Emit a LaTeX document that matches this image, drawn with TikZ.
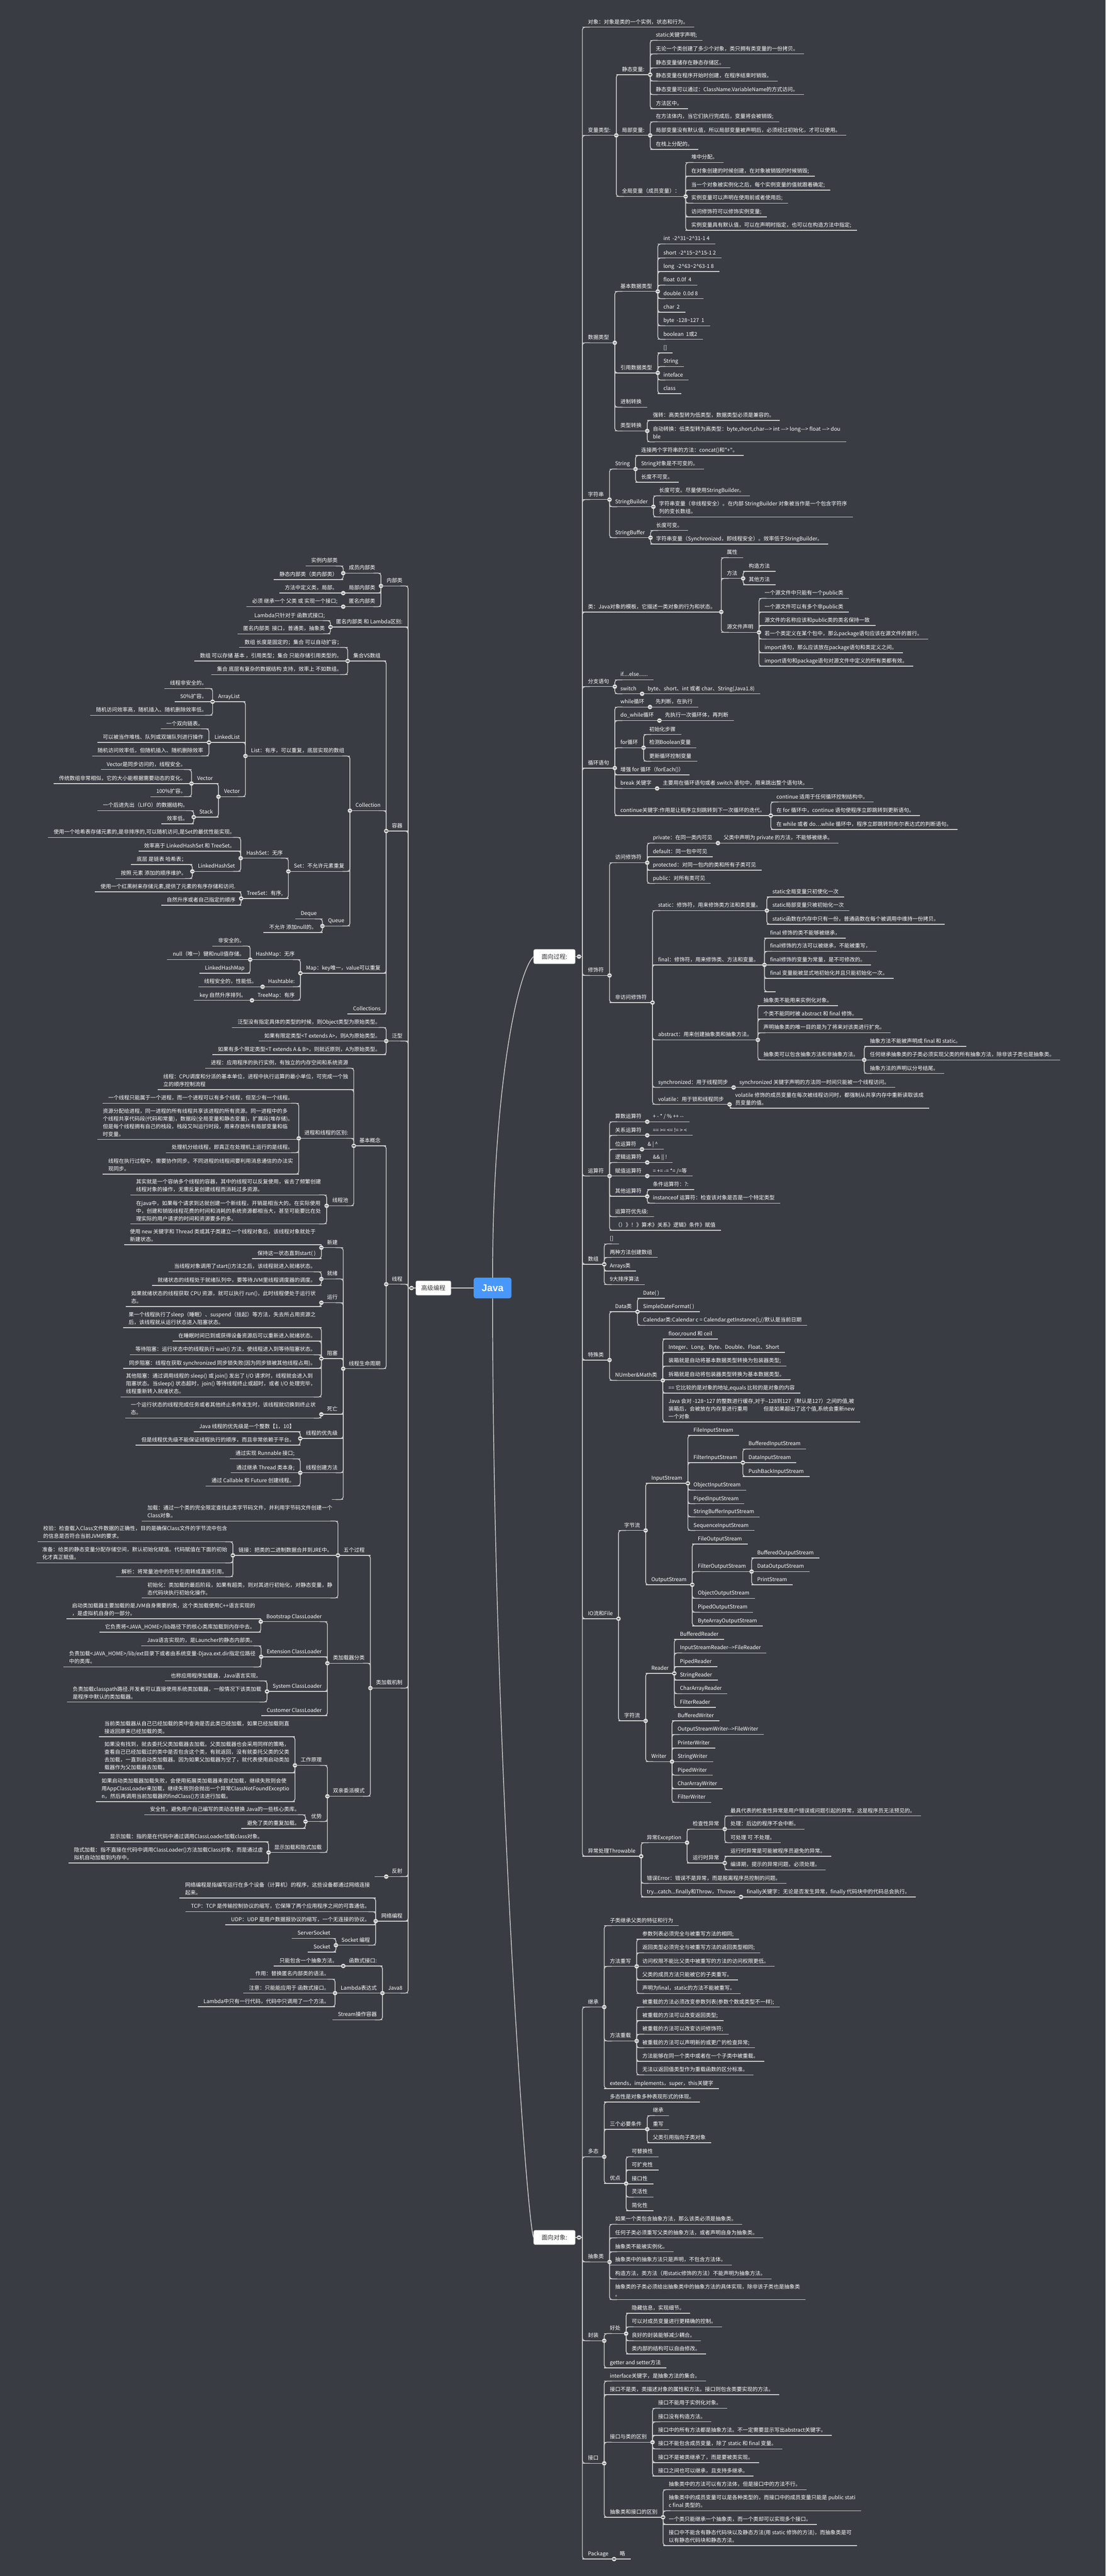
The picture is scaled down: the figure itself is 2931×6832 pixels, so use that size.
\documentclass[tikz,border=0pt]{standalone}
\usepackage{fontspec}
\newfontfamily\cjkf{Noto Sans CJK SC}
\newfontfamily\javaf{Liberation Sans}
\usetikzlibrary{calc}
\definecolor{bgc}{RGB}{57,60,66}
\definecolor{lnc}{RGB}{205,205,205}
\definecolor{jbc}{RGB}{72,151,250}
\definecolor{txc}{RGB}{51,51,51}
\definecolor{cfc}{RGB}{222,222,222}
\definecolor{cmc}{RGB}{70,70,70}
\newcommand\hatc{\textasciicircum}
\newcommand\tildc{\textasciitilde}
\newcommand\mline[1]{\begin{tabular}[b]{@{}l@{}}#1\end{tabular}}
\newcommand\dotc[1]{\fill[cfc] (#1) circle (6pt); \draw[cmc, line width=1.8pt] ($(#1)+(-3.2,0)$) -- ($(#1)+(3.2,0)$);}
\newcommand\setY[2]{\expandafter\xdef\csname Y@#1\endcsname{#2}}
\newcommand\getY[1]{\csname Y@#1\endcsname}
\newcommand\circlist{}
\newcommand\addcirc[1]{\expandafter\gdef\expandafter\circlist\expandafter{\circlist\dotc{#1}}}
\newcommand\markpar[2]{% #1 name, #2 anchor
  \ifcsname C@#1\endcsname\else
    \expandafter\gdef\csname C@#1\endcsname{}%
    \addcirc{#1.#2}%
  \fi}
\newcommand\rnode[4]{%
  \setY{#1}{#3}%
  \path let \p1=(#2.south east) in node[rn] (#1) at (\x1,-#3pt) {#4};
  \draw[lk] (#1.south west) -- (#1.south east);
  \ifnum\numexpr(#3-\getY{#2})*(#3-\getY{#2})\relax<100
    \draw[lk] (#2.south east) -- (#1.south west);
  \else
    \draw[lk, rounded corners=7pt] (#2.south east) |- ($(#1.south west)+(20,0)$);
  \fi
  \markpar{#2}{south east}%
}
\newcommand\rzero[4]{%
  \setY{#1}{#3}%
  \path let \p1=(#2) in node[rn] (#1) at (\x1,-#3pt) {#4};
  \draw[lk] (#1.south west) -- (#1.south east);
  \ifnum\numexpr(#3-\getY{#2})*(#3-\getY{#2})\relax<100
    \draw[lk] (#2) -- (#1.south west);
  \else
    \draw[lk, rounded corners=7pt] (#2) |- ($(#1.south west)+(20,0)$);
  \fi
}
\newcommand\lnode[4]{%
  \setY{#1}{#3}%
  \path let \p1=(#2.south west) in node[lnd] (#1) at (\x1,-#3pt) {#4};
  \draw[lk] (#1.south west) -- (#1.south east);
  \ifnum\numexpr(#3-\getY{#2})*(#3-\getY{#2})\relax<100
    \draw[lk] (#2.south west) -- (#1.south east);
  \else
    \draw[lk, rounded corners=7pt] (#2.south west) |- ($(#1.south east)+(-20,0)$);
  \fi
  \markpar{#2}{south west}%
}
\newcommand\lzero[4]{%
  \setY{#1}{#3}%
  \path let \p1=(#2) in node[lnd] (#1) at (\x1,-#3pt) {#4};
  \draw[lk] (#1.south west) -- (#1.south east);
  \ifnum\numexpr(#3-\getY{#2})*(#3-\getY{#2})\relax<100
    \draw[lk] (#2) -- (#1.south east);
  \else
    \draw[lk, rounded corners=7pt] (#2) |- ($(#1.south east)+(-20,0)$);
  \fi
}
\tikzset{
  lk/.style={draw=lnc, line width=2pt},
  rn/.style={anchor=south west, inner xsep=15pt, inner ysep=0pt, outer sep=0pt, text depth=9pt, text=white, font=\cjkf\fontsize{14}{20.5}\selectfont},
  lnd/.style={rn, anchor=south east},
  rootbox/.style={fill=white, draw=lnc, line width=1pt, rounded corners=4pt, minimum width=110pt, minimum height=38pt, inner sep=0pt, text=txc, font=\cjkf\fontsize{16}{16}\selectfont},
}
\begin{document}
\begin{tikzpicture}[x=1pt,y=-1pt]
\useasboundingbox (0,0) rectangle (2931,6832);
\fill[bgc] (0,0) rectangle (2931,6832);
% ---------- centre ----------
\node[fill=jbc, rounded corners=6pt, minimum width=100pt, minimum height=55pt, inner sep=0pt, text=white, font=\javaf\bfseries\fontsize{26}{26}\selectfont] (java) at (1306,3416) {Java};
\node[rootbox] (mgP) at (1470,2537) {面向过程:};
\node[rootbox] (mgO) at (1470,5934) {面向对象:};
\node[rootbox, minimum width=93pt] (mgL) at (1149,3416) {高级编程};
\coordinate (gP) at (1544,2537); \setY{gP}{2537}
\coordinate (gO) at (1544,5934); \setY{gO}{5934}
\coordinate (gL) at (1082,3416); \setY{gL}{3416}
\draw[lk] (java.north) .. controls (1306,2900) and (1370,2580) .. (mgP.west);
\draw[lk] (java.south) .. controls (1306,4600) and (1395,5885) .. (mgO.west);
\draw[lk] (java.west) -- (mgL.east);
\draw[lk] (mgP.east) -- (gP);
\draw[lk] (mgO.east) -- (gO);
\draw[lk] (mgL.west) -- (gL);
% ---------- 面向过程 ----------
\rzero{o1}{gP}{72}{对象：对象是类的一个实例，状态和行为。}
\rzero{o2}{gP}{359}{变量类型:}
\rnode{a1}{o2}{198}{静态变量:}
\rnode{a11}{a1}{107}{static关键字声明;}
\rnode{a12}{a1}{143}{无论一个类创建了多少个对象，类只拥有类变量的一份拷贝。}
\rnode{a13}{a1}{180}{静态变量储存在静态存储区。}
\rnode{a14}{a1}{215}{静态变量在程序开始时创建，在程序结束时销毁。}
\rnode{a15}{a1}{251}{静态变量可以通过：ClassName.VariableName的方式访问。}
\rnode{a16}{a1}{288}{方法区中。}
\rnode{a2}{o2}{359}{局部变量:}
\rnode{a21}{a2}{323}{在方法体内，当它们执行完成后，变量将会被销毁;}
\rnode{a22}{a2}{359}{局部变量没有默认值，所以局部变量被声明后，必须经过初始化，才可以使用。}
\rnode{a23}{a2}{396}{在栈上分配的。}
\rnode{a3}{o2}{521}{全局变量（成员变量）：}
\rnode{a31}{a3}{431}{堆中分配。}
\rnode{a32}{a3}{467}{在对象创建的时候创建，在对象被销毁的时候销毁;}
\rnode{a33}{a3}{504}{当一个对象被实例化之后，每个实例变量的值就跟着确定;}
\rnode{a34}{a3}{539}{实例变量可以声明在使用前或者使用后;}
\rnode{a35}{a3}{575}{访问修饰符可以修饰实例变量;}
\rnode{a36}{a3}{611}{实例变量具有默认值，可以在声明时指定，也可以在构造方法中指定;}
\rzero{o3}{gP}{909}{数据类型}
\rnode{b1}{o3}{773}{基本数据类型}
\rnode{b11}{b1}{647}{int\ \ -2\hatc31\tildc2\hatc31-1 4}
\rnode{b12}{b1}{684}{short\ \ -2\hatc15\tildc2\hatc15-1 2}
\rnode{b13}{b1}{720}{long\ \ -2\hatc63\tildc2\hatc63-1 8}
\rnode{b14}{b1}{756}{float\ \ 0.0f\ \ 4}
\rnode{b15}{b1}{792}{double\ \ 0.0d 8}
\rnode{b16}{b1}{828}{char\ \ 2}
\rnode{b17}{b1}{864}{byte\ \ -128\tildc127\ \ 1}
\rnode{b18}{b1}{900}{boolean\ \ 1或2}
\rnode{b2}{o3}{989}{引用数据类型}
\rnode{b21}{b2}{936}{[]}
\rnode{b22}{b2}{972}{String}
\rnode{b23}{b2}{1008}{inteface}
\rnode{b24}{b2}{1044}{class}
\rnode{b3}{o3}{1080}{进制转换}
\rnode{b4}{o3}{1143}{类型转换}
\rnode{b41}{b4}{1115}{强转：高类型转为低类型，数据类型必须是兼容的。}
\rnode{b42}{b4}{1172}{\mline{自动转换：低类型转为高类型：byte,short,char—> int —> long—> float —> dou\\ble}}
\rzero{o4}{gP}{1325}{字符串}
\rnode{c1}{o4}{1244}{String}
\rnode{c11}{c1}{1208}{连接两个字符串的方法：concat()和"+"。}
\rnode{c12}{c1}{1244}{String对象是不可变的。}
\rnode{c13}{c1}{1279}{长度不可变。}
\rnode{c2}{o4}{1344}{StringBuilder}
\rnode{c21}{c2}{1315}{长度可变。尽量使用StringBuilder。}
\rnode{c22}{c2}{1371}{\mline{字符串变量（非线程安全）。在内部 StringBuilder 对象被当作是一个包含字符序\\列的变长数组。}}
\rnode{c3}{o4}{1426}{StringBuffer}
\rnode{c31}{c3}{1407}{长度可变。}
\rnode{c32}{c3}{1443}{字符串变量（Synchronized，即线程安全）。效率低于StringBuilder。}
\rzero{o5}{gP}{1623}{类：Java对象的模板，它描述一类对象的行为和状态。}
\rnode{d1}{o5}{1479}{属性}
\rnode{d2}{o5}{1534}{方法}
\rnode{d21}{d2}{1515}{构造方法}
\rnode{d22}{d2}{1551}{其他方法}
\rnode{d3}{o5}{1677}{源文件声明}
\rnode{d31}{d3}{1587}{一个源文件中只能有一个public类}
\rnode{d32}{d3}{1623}{一个源文件可以有多个非public类}
\rnode{d33}{d3}{1659}{源文件的名称应该和public类的类名保持一致}
\rnode{d34}{d3}{1695}{若一个类定义在某个包中，那么package语句应该在源文件的首行。}
\rnode{d35}{d3}{1731}{import语句，那么应该放在package语句和类定义之间。}
\rnode{d36}{d3}{1767}{import语句和package语句对源文件中定义的所有类都有效。}
\rzero{o6}{gP}{1821}{分支语句}
\rnode{e1}{o6}{1803}{if....else......}
\rnode{e2}{o6}{1840}{switch}
\rnode{e21}{e2}{1840}{byte、short、int 或者 char、String(Java1.8)}
\rzero{o7}{gP}{2037}{循环语句}
\rnode{f1}{o7}{1875}{while循环}
\rnode{f11}{f1}{1875}{先判断，在执行}
\rnode{f2}{o7}{1911}{do\_while循环}
\rnode{f21}{f2}{1911}{先执行一次循环体，再判断}
\rnode{f3}{o7}{1983}{for循环}
\rnode{f31}{f3}{1948}{初始化步骤}
\rnode{f32}{f3}{1983}{检测Boolean变量}
\rnode{f33}{f3}{2019}{更新循环控制变量}
\rnode{f4}{o7}{2055}{增强 for 循环（forEach()）}
\rnode{f5}{o7}{2091}{break 关键字}
\rnode{f51}{f5}{2091}{主要用在循环语句或者 switch 语句中，用来跳出整个语句块。}
\rnode{f6}{o7}{2163}{continue关键字:作用是让程序立刻跳转到下一次循环的迭代。}
\rnode{f61}{f6}{2127}{continue 适用于任何循环控制结构中。}
\rnode{f62}{f6}{2163}{在 for 循环中，continue 语句使程序立即跳转到更新语句。}
\rnode{f63}{f6}{2200}{在 while 或者 do…while 循环中，程序立即跳转到布尔表达式的判断语句。}
\rzero{o8}{gP}{2587}{修饰符}
\rnode{g1}{o8}{2288}{访问修饰符}
\rnode{g11}{g1}{2236}{private：在同一类内可见}
\rnode{g111}{g11}{2236}{父类中声明为 private 的方法，不能够被继承。}
\rnode{g12}{g1}{2272}{default：同一包中可见}
\rnode{g13}{g1}{2308}{protected：对同一包内的类和所有子类可见}
\rnode{g14}{g1}{2343}{public：对所有类可见}
\rnode{g2}{o8}{2659}{非访问修饰符}
\rnode{g21}{g2}{2415}{static：修饰符，用来修饰类方法和类变量。}
\rnode{g211}{g21}{2379}{static全局变量只初使化一次}
\rnode{g212}{g21}{2415}{static局部变量只被初始化一次}
\rnode{g213}{g21}{2451}{static函数在内存中只有一份，普通函数在每个被调用中维持一份拷贝。}
\rnode{g22}{g2}{2559}{final：修饰符，用来修饰类、方法和变量。}
\rnode{g221}{g22}{2488}{final 修饰的类不能够被继承，}
\rnode{g222}{g22}{2523}{final修饰的方法可以被继承，不能被重写，}
\rnode{g223}{g22}{2559}{final修饰的变量为常量，是不可修改的。}
\rnode{g224}{g22}{2595}{final 变量能被显式地初始化并且只能初始化一次。}
\rnode{g225}{g22}{2630}{}
\rnode{g23}{g2}{2758}{abstract：用来创建抽象类和抽象方法。}
\rnode{g231}{g23}{2667}{抽象类不能用来实例化对象。}
\rnode{g232}{g23}{2703}{个类不能同时被 abstract 和 final 修饰。}
\rnode{g233}{g23}{2739}{声明抽象类的唯一目的是为了将来对该类进行扩充。}
\rnode{g234}{g23}{2811}{抽象类可以包含抽象方法和非抽象方法。}
\rnode{g2341}{g234}{2775}{抽象方法不能被声明成 final 和 static。}
\rnode{g2342}{g234}{2811}{任何继承抽象类的子类必须实现父类的所有抽象方法，除非该子类也是抽象类。}
\rnode{g2343}{g234}{2847}{抽象方法的声明以分号结尾。}
\rnode{g24}{g2}{2884}{synchronized：用于线程同步}
\rnode{g241}{g24}{2884}{synchronized 关键字声明的方法同一时间只能被一个线程访问。}
\rnode{g25}{g2}{2929}{volatile：用于锁和线程同步}
\rnode{g251}{g25}{2939}{\mline{volatile 修饰的成员变量在每次被线程访问时，都强制从共享内存中重新读取该成\\员变量的值。}}
\rzero{o9}{gP}{3119}{运算符}
\rnode{h1}{o9}{2975}{算数运算符}
\rnode{h11}{h1}{2975}{+ - * / \% ++ -{}-}
\rnode{h2}{o9}{3011}{关系运算符}
\rnode{h21}{h2}{3011}{== >= <= != > <}
\rnode{h3}{o9}{3048}{位运算符}
\rnode{h31}{h3}{3048}{\& | \hatc}
\rnode{h4}{o9}{3083}{逻辑运算符}
\rnode{h41}{h4}{3083}{\&\& || !}
\rnode{h5}{o9}{3119}{赋值运算符}
\rnode{h51}{h5}{3119}{= += -= *= /=等}
\rnode{h6}{o9}{3173}{其他运算符}
\rnode{h61}{h6}{3155}{条件运算符：?:}
\rnode{h62}{h6}{3191}{instanceof 运算符：检查该对象是否是一个特定类型}
\rnode{h7}{o9}{3227}{运算符优先级:}
\rnode{h8}{o9}{3263}{（）》！》算术》关系》逻辑》条件》赋值}
\rzero{o10}{gP}{3353}{数组}
\rnode{i1}{o10}{3299}{[]}
\rnode{i2}{o10}{3335}{两种方法创建数组}
\rnode{i3}{o10}{3371}{Arrays类}
\rnode{i4}{o10}{3407}{9大排序算法}
\rzero{o11}{gP}{3607}{特殊类}
\rnode{j1}{o11}{3479}{Data类}
\rnode{j11}{j1}{3443}{Date( )}
\rnode{j12}{j1}{3479}{SimpleDateFormat( )}
\rnode{j13}{j1}{3515}{Calendar类:Calendar c = Calendar.getInstance();//默认是当前日期}
\rnode{j2}{o11}{3661}{NUmber\&Math类}
\rnode{j21}{j2}{3551}{floor,round 和 ceil}
\rnode{j22}{j2}{3587}{Integer、Long、Byte、Double、Float、Short}
\rnode{j23}{j2}{3623}{装箱就是自动将基本数据类型转换为包装器类型;}
\rnode{j24}{j2}{3659}{拆箱就是自动将包装器类型转换为基本数据类型。}
\rnode{j25}{j2}{3695}{== 它比较的是对象的地址,equals 比较的是对象的内容}
\rnode{j26}{j2}{3771}{\mline{Java 会对 -128\tildc127 的整数进行缓存,对于–128到127（默认是127）之间的值,被\\装箱后，会被放在内存里进行重用\qquad\quad 但是如果超出了这个值,系统会重新new\\一个对象}}
\rzero{o12}{gP}{4293}{IO流和File}
\rnode{k1}{o12}{4059}{字节流}
\rnode{k11}{k1}{3934}{InputStream}
\rnode{k111}{k11}{3807}{FileInputStream}
\rnode{k112}{k11}{3879}{FilterInputStream}
\rnode{k1121}{k112}{3843}{BufferedInputStream}
\rnode{k1122}{k112}{3879}{DataInputStream}
\rnode{k1123}{k112}{3916}{PushBackInputStream}
\rnode{k113}{k11}{3952}{ObjectInputStream}
\rnode{k114}{k11}{3988}{PipedInputStream}
\rnode{k115}{k11}{4023}{StringBufferInputStream}
\rnode{k116}{k11}{4059}{SequenceInputStream}
\rnode{k12}{k1}{4203}{OutputStream}
\rnode{k121}{k12}{4095}{FileOutputStream}
\rnode{k122}{k12}{4168}{FilterOutputStream}
\rnode{k1221}{k122}{4132}{BufferedOutputStream}
\rnode{k1222}{k122}{4168}{DataOutputStream}
\rnode{k1223}{k122}{4203}{PrintStream}
\rnode{k123}{k12}{4239}{ObjectOutputStream}
\rnode{k124}{k12}{4276}{PipedOutputStream}
\rnode{k125}{k12}{4312}{ByteArrayOutputStream}
\rnode{k2}{o12}{4564}{字符流}
\rnode{k21}{k2}{4438}{Reader}
\rnode{k211}{k21}{4348}{BufferedReader}
\rnode{k212}{k21}{4384}{InputStreamReader-->FileReader}
\rnode{k213}{k21}{4420}{PipedReader}
\rnode{k214}{k21}{4456}{StringReader}
\rnode{k215}{k21}{4492}{CharArrayReader}
\rnode{k216}{k21}{4528}{FilterReader}
\rnode{k22}{k2}{4672}{Writer}
\rnode{k221}{k22}{4564}{BufferedWriter}
\rnode{k222}{k22}{4600}{OutputStreamWriter-->FileWriter}
\rnode{k223}{k22}{4636}{PrinterWriter}
\rnode{k224}{k22}{4672}{StringWriter}
\rnode{k225}{k22}{4708}{PipedWriter}
\rnode{k226}{k22}{4744}{CharArrayWriter}
\rnode{k227}{k22}{4780}{FilterWriter}
\rzero{o13}{gP}{4923}{异常处理Throwable}
\rnode{l1}{o13}{4887}{异常Exception}
\rnode{l11}{l1}{4851}{检查性异常}
\rnode{l111}{l11}{4816}{最具代表的检查性异常是用户错误或问题引起的异常，这是程序员无法预见的。}
\rnode{l112}{l11}{4851}{处理：后边的程序不会中断。}
\rnode{l113}{l11}{4887}{可处理 可 不处理。}
\rnode{l12}{l1}{4941}{运行时异常}
\rnode{l121}{l12}{4923}{运行时异常是可能被程序员避免的异常。}
\rnode{l122}{l12}{4959}{编译期，提示的异常问题，必须处理。}
\rnode{l2}{o13}{4995}{错误Error：错误不是异常，而是脱离程序员控制的问题。}
\rnode{l3}{o13}{5031}{try...catch...finally和Throw，Throws}
\rnode{l31}{l3}{5031}{finally关键字：无论是否发生异常，finally 代码块中的代码总会执行。}
% ---------- 面向对象 ----------
\rzero{p1}{gO}{5323}{继承}
\rnode{p11}{p1}{5107}{子类继承父类的特征和行为}
\rnode{p12}{p1}{5215}{方法重写}
\rnode{p121}{p12}{5143}{参数列表必须完全与被重写方法的相同;}
\rnode{p122}{p12}{5179}{返回类型必须完全与被重写方法的返回类型相同;}
\rnode{p123}{p12}{5215}{访问权限不能比父类中被重写的方法的访问权限更低。}
\rnode{p124}{p12}{5251}{父类的成员方法只能被它的子类重写。}
\rnode{p125}{p12}{5287}{声明为final，static的方法不能被重写。}
\rnode{p13}{p1}{5413}{方法重载}
\rnode{p131}{p13}{5323}{被重载的方法必须改变参数列表(参数个数或类型不一样);}
\rnode{p132}{p13}{5359}{被重载的方法可以改变返回类型;}
\rnode{p133}{p13}{5395}{被重载的方法可以改变访问修饰符;}
\rnode{p134}{p13}{5431}{被重载的方法可以声明新的或更广的检查异常;}
\rnode{p135}{p13}{5467}{方法能够在同一个类中或者在一个子类中被重载。}
\rnode{p136}{p13}{5503}{无法以返回值类型作为重载函数的区分标准。}
\rnode{p14}{p1}{5539}{extends，implements，super，this关键字}
\rzero{p2}{gO}{5720}{多态}
\rnode{p21}{p2}{5575}{多态性是对象多种表现形式的体现。}
\rnode{p22}{p2}{5647}{三个必要条件}
\rnode{p221}{p22}{5611}{继承}
\rnode{p222}{p22}{5648}{重写}
\rnode{p223}{p22}{5683}{父类引用指向子类对象}
\rnode{p23}{p2}{5791}{优点}
\rnode{p231}{p23}{5720}{可替换性}
\rnode{p232}{p23}{5755}{可扩充性}
\rnode{p233}{p23}{5792}{接口性}
\rnode{p234}{p23}{5827}{灵活性}
\rnode{p235}{p23}{5863}{简化性}
\rzero{p3}{gO}{5999}{抽象类}
\rnode{p31}{p3}{5899}{如果一个类包含抽象方法，那么该类必须是抽象类。}
\rnode{p32}{p3}{5935}{任何子类必须重写父类的抽象方法，或者声明自身为抽象类。}
\rnode{p33}{p3}{5972}{抽象类不能被实例化。}
\rnode{p34}{p3}{6007}{抽象类中的抽象方法只是声明，不包含方法体。}
\rnode{p35}{p3}{6044}{构造方法，类方法（用static修饰的方法）不能声明为抽象方法。}
\rnode{p36}{p3}{6099}{\mline{抽象类的子类必须给出抽象类中的抽象方法的具体实现，除非该子类也是抽象类\\。}}
\rzero{p4}{gO}{6208}{封装}
\rnode{p41}{p4}{6189}{好处}
\rnode{p411}{p41}{6135}{隐藏信息，实现细节。}
\rnode{p412}{p41}{6171}{可以对成员变量进行更精确的控制。}
\rnode{p413}{p41}{6208}{良好的封装能够减少耦合。}
\rnode{p414}{p41}{6243}{类内部的结构可以自由修改。}
\rnode{p42}{p4}{6280}{getter and setter方法}
\rzero{p5}{gO}{6533}{接口}
\rnode{p51}{p5}{6315}{interface关键字，是抽象方法的集合。}
\rnode{p52}{p5}{6351}{接口不是类，类描述对象的属性和方法。接口则包含类要实现的方法。}
\rnode{p53}{p5}{6477}{接口与类的区别}
\rnode{p531}{p53}{6387}{接口不能用于实例化对象。}
\rnode{p532}{p53}{6423}{接口没有构造方法。}
\rnode{p533}{p53}{6459}{接口中的所有方法都是抽象方法。不一定需要显示写出abstract关键字。}
\rnode{p534}{p53}{6495}{接口不能包含成员变量，除了 static 和 final 变量。}
\rnode{p535}{p53}{6531}{接口不是被类继承了，而是要被类实现。}
\rnode{p536}{p53}{6567}{接口之间也可以继承，且支持多继承。}
\rnode{p54}{p5}{6676}{抽象类和接口的区别}
\rnode{p541}{p54}{6603}{抽象类中的方法可以有方法体，但是接口中的方法不行。}
\rnode{p542}{p54}{6659}{\mline{抽象类中的成员变量可以是各种类型的，而接口中的成员变量只能是 public stati\\c final 类型的。}}
\rnode{p543}{p54}{6695}{一个类只能继承一个抽象类，而一个类却可以实现多个接口。}
\rnode{p544}{p54}{6751}{\mline{接口中不能含有静态代码块以及静态方法(用 static 修饰的方法)，而抽象类是可\\以有静态代码块和静态方法。}}
\rzero{p6}{gO}{6787}{Package}
\rnode{p61}{p6}{6787}{略}
% ---------- 高级编程 ----------
\lzero{q1}{gL}{1554}{内部类}
\lnode{q11}{q1}{1520}{成员内部类}
\lnode{q111}{q11}{1501}{实例内部类}
\lnode{q112}{q11}{1537}{静态内部类（类内部类）}
\lnode{q12}{q1}{1573}{局部内部类}
\lnode{q121}{q12}{1573}{方法中定义类，局部。}
\lnode{q13}{q1}{1609}{匿名内部类}
\lnode{q131}{q13}{1609}{必须 继承一个 父类 或 实现一个接口;}
\lzero{q2}{gL}{1663}{匿名内部类 和 Lambda区别:}
\lnode{q21}{q2}{1646}{Lambda只针对于 函数式接口;}
\lnode{q22}{q2}{1681}{匿名内部类\ \ 接口，普通类，抽象类}
\lzero{q3}{gL}{2204}{容器}
\lnode{q31}{q3}{1753}{集合VS数组}
\lnode{q311}{q31}{1717}{数组 长度是固定的；集合 可以自动扩容；}
\lnode{q312}{q31}{1753}{数组 可以存储 基本 ，引用类型；集合 只能存储引用类型的。}
\lnode{q313}{q31}{1789}{集合 底层有复杂的数据结构 支持，效率上 不如数组。}
\lnode{q32}{q3}{2150}{Collection}
\lnode{q321}{q32}{2005}{List：有序，可以重复，底层实现的数组}
\lnode{q3211}{q321}{1861}{ArrayList}
\lnode{q32111}{q3211}{1826}{线程非安全的。}
\lnode{q32112}{q3211}{1861}{50\%扩容。}
\lnode{q32113}{q3211}{1897}{随机访问效率高，随机插入、随机删除效率低。}
\lnode{q3212}{q321}{1969}{LinkedList}
\lnode{q32121}{q3212}{1933}{一个双向链表。}
\lnode{q32122}{q3212}{1969}{可以被当作堆栈、队列或双端队列进行操作}
\lnode{q32123}{q3212}{2005}{随机访问效率低，但随机插入、随机删除效率}
\lnode{q3213}{q321}{2113}{Vector}
\lnode{q32131}{q3213}{2078}{Vector}
\lnode{q321311}{q32131}{2041}{Vector是同步访问的，线程安全。}
\lnode{q321312}{q32131}{2078}{传统数组非常相似，它的大小能根据需要动态的变化。}
\lnode{q321313}{q32131}{2113}{100\%扩容。}
\lnode{q32132}{q3213}{2167}{Stack}
\lnode{q321321}{q32132}{2150}{一个后进先出（LIFO）的数据结构。}
\lnode{q321322}{q32132}{2185}{效率低。}
\lnode{q322}{q32}{2311}{Set：不允许元素重复}
\lnode{q3221}{q322}{2276}{HashSet：无序}
\lnode{q32211}{q3221}{2221}{使用一个哈希表存储元素的,是非排序的,可以随机访问,是Set的最优性能实现。}
\lnode{q32212}{q3221}{2257}{效率高于 LinkedHashSet 和 TreeSet。}
\lnode{q32213}{q3221}{2311}{LinkedHashSet}
\lnode{q322131}{q32213}{2293}{底层 是链表 哈希表；}
\lnode{q322132}{q32213}{2330}{按照 元素 添加的顺序维护。}
\lnode{q3222}{q322}{2383}{TreeSet：有序,}
\lnode{q32221}{q3222}{2365}{使用一个红黑树来存储元素,提供了元素的有序存储和访问.}
\lnode{q32222}{q3222}{2401}{自然升序或者自己指定的顺序}
\lnode{q323}{q32}{2456}{Queue}
\lnode{q3231}{q323}{2437}{Deque}
\lnode{q3232}{q323}{2473}{不允许 添加null的。}
\lnode{q33}{q3}{2581}{Map：key唯一，value可以重复}
\lnode{q331}{q33}{2545}{HashMap：无序}
\lnode{q3311}{q331}{2509}{非安全的。}
\lnode{q3312}{q331}{2545}{null（唯一）键和null值存储。}
\lnode{q3313}{q331}{2581}{LinkedHashMap}
\lnode{q332}{q33}{2617}{Hashtable:}
\lnode{q3321}{q332}{2617}{线程安全的，性能低。}
\lnode{q333}{q33}{2653}{TreeMap：有序}
\lnode{q3331}{q333}{2653}{key 自然升序排列。}
\lnode{q34}{q3}{2689}{Collections}
\lzero{q4}{gL}{2761}{泛型}
\lnode{q41}{q4}{2725}{泛型没有指定具体的类型的时候，则Object类型为原始类型。}
\lnode{q42}{q4}{2761}{如果有限定类型<T extends A>，则A为原始类型。}
\lnode{q43}{q4}{2797}{如果有多个限定类型<T extends A \& B>，则就近原则，A为原始类型。}
\lzero{q5}{gL}{3406}{线程}
\lnode{q51}{q5}{3039}{基本概念}
\lnode{q511}{q51}{2833}{进程：应用程序的执行实例，有独立的内存空间和系统资源}
\lnode{q512}{q51}{2890}{\mline{线程：CPU调度和分派的基本单位，进程中执行运算的最小单位，可完成一个独\\立的顺序控制流程}}
\lnode{q513}{q51}{3019}{进程和线程的区别:}
\lnode{q5131}{q513}{2926}{一个线程只能属于一个进程，而一个进程可以有多个线程，但至少有一个线程。}
\lnode{q5132}{q513}{3022}{\mline{资源分配给进程，同一进程的所有线程共享该进程的所有资源。同一进程中的多\\个线程共享代码段(代码和常量)，数据段(全局变量和静态变量)，扩展段(堆存储)。\\但是每个线程拥有自己的栈段，栈段又叫运行时段，用来存放所有局部变量和临\\时变量。}}
\lnode{q5133}{q513}{3057}{处理机分给线程，即真正在处理机上运行的是线程。}
\lnode{q5134}{q513}{3114}{\mline{线程在执行过程中，需要协作同步。不同进程的线程间要利用消息通信的办法实\\现同步。}}
\lnode{q514}{q51}{3198}{线程池}
\lnode{q5141}{q514}{3169}{\mline{其实就是一个容纳多个线程的容器，其中的线程可以反复使用，省去了频繁创建\\线程对象的操作，无需反复创建线程而消耗过多资源。}}
\lnode{q5142}{q514}{3246}{\mline{在java中，如果每个请求到达就创建一个新线程，开销是相当大的。在实际使用\\中，创建和销毁线程花费的时间和消耗的系统资源都相当大，甚至可能要比在处\\理实际的用户请求的时间和资源要多的多。}}
\lnode{q52}{q5}{3630}{线程生命周期}
\lnode{q521}{q52}{3309}{新建}
\lnode{q5211}{q521}{3301}{\mline{使用 new 关键字和 Thread 类或其子类建立一个线程对象后，该线程对象就处于\\新建状态。}}
\lnode{q5212}{q521}{3338}{保持这一状态直到start( )}
\lnode{q522}{q52}{3392}{就绪}
\lnode{q5221}{q522}{3373}{当线程对象调用了start()方法之后，该线程就进入就绪状态。}
\lnode{q5222}{q522}{3409}{就绪状态的线程处于就绪队列中，要等待JVM里线程调度器的调度。}
\lnode{q523}{q52}{3455}{运行}
\lnode{q5231}{q523}{3465}{\mline{如果就绪状态的线程获取 CPU 资源，就可以执行 run()，此时线程便处于运行状\\态。}}
\lnode{q524}{q52}{3603}{阻塞}
\lnode{q5241}{q524}{3521}{\mline{果一个线程执行了sleep（睡眠）、suspend（挂起）等方法，失去所占用资源之\\后，该线程就从运行状态进入阻塞状态。}}
\lnode{q5242}{q524}{3557}{在睡眠时间已到或获得设备资源后可以重新进入就绪状态。}
\lnode{q5243}{q524}{3593}{等待阻塞：运行状态中的线程执行 wait() 方法，使线程进入到等待阻塞状态。}
\lnode{q5244}{q524}{3629}{同步阻塞：线程在获取 synchronized 同步锁失败(因为同步锁被其他线程占用)。}
\lnode{q5245}{q524}{3705}{\mline{其他阻塞：通过调用线程的 sleep() 或 join() 发出了 I/O 请求时，线程就会进入到\\阻塞状态。当sleep() 状态超时，join() 等待线程终止或超时，或者 I/O 处理完毕，\\线程重新转入就绪状态。}}
\lnode{q525}{q52}{3751}{死亡}
\lnode{q5251}{q525}{3761}{\mline{一个运行状态的线程完成任务或者其他终止条件发生时，该线程就切换到终止状\\态。}}
\lnode{q526}{q52}{3815}{线程的优先级}
\lnode{q5261}{q526}{3797}{Java 线程的优先级是一个整数【1，10】}
\lnode{q5262}{q526}{3833}{但是线程优先级不能保证线程执行的顺序，而且非常依赖于平台。}
\lnode{q527}{q52}{3906}{线程创建方法}
\lnode{q5271}{q527}{3869}{通过实现 Runnable 接口;}
\lnode{q5272}{q527}{3906}{通过继承 Thread 类本身;}
\lnode{q5273}{q527}{3941}{通过 Callable 和 Future 创建线程。}
\lnode{q528}{q52}{3977}{}
\lzero{q6}{gL}{4477}{类加载机制}
\lnode{q61}{q6}{4125}{五个过程}
\lnode{q611}{q61}{4034}{\mline{加载：通过一个类的完全限定查找此类字节码文件，并利用字节码文件创建一个\\Class对象。}}
\lnode{q612}{q61}{4125}{链接：把类的二进制数据合并到JRE中。}
\lnode{q6121}{q612}{4089}{\mline{校验：检查载入Class文件数据的正确性，目的是确保Class文件的字节流中包含\\的信息是否符合当前JVM的要求。}}
\lnode{q6122}{q612}{4145}{\mline{准备：给类的静态变量分配存储空间，默认初始化赋值。代码赋值在下面的初始\\化才真正赋值。}}
\lnode{q6123}{q612}{4182}{解析：将常量池中的符号引用转成直接引用。}
\lnode{q613}{q61}{4238}{\mline{初始化：类加载的最后阶段，如果有超类，则对其进行初始化，对静态变量，静\\态代码块执行初始化操作。}}
\lnode{q62}{q6}{4411}{类加载器分类}
\lnode{q621}{q62}{4301}{Bootstrap ClassLoader}
\lnode{q6211}{q621}{4293}{\mline{启动类加载器主要加载的是JVM自身需要的类，这个类加载使用C++语言实现的\\，是虚拟机自身的一部分。}}
\lnode{q6212}{q621}{4329}{它负责将<JAVA\_HOME>/lib路径下的核心类库加载到内存中去。}
\lnode{q622}{q62}{4394}{Extension ClassLoader}
\lnode{q6221}{q622}{4365}{Java语言实现的，是Launcher的静态内部类。}
\lnode{q6222}{q622}{4421}{\mline{负责加载<JAVA\_HOME>/lib/ext目录下或者由系统变量-Djava.ext.dir指定位路径\\中的类库。}}
\lnode{q623}{q62}{4486}{System ClassLoader}
\lnode{q6231}{q623}{4458}{也称应用程序加载器，Java语言实现。}
\lnode{q6232}{q623}{4514}{\mline{负责加载classpath路径.开发者可以直接使用系统类加载器，一般情况下该类加载\\是程序中默认的类加载器。}}
\lnode{q624}{q62}{4550}{Customer ClassLoader}
\lnode{q63}{q6}{4764}{双亲委派模式}
\lnode{q631}{q63}{4682}{工作原理}
\lnode{q6311}{q631}{4606}{\mline{当前类加载器从自己已经加载的类中查询是否此类已经加载，如果已经加载则直\\接返回原来已经加载的类。}}
\lnode{q6312}{q631}{4702}{\mline{如果没有找到，就去委托父类加载器去加载。父类加载器也会采用同样的策略，\\查看自己已经加载过的类中是否包含这个类，有就返回，没有就委托父类的父类\\去加载，一直到启动类加载器。因为如果父加载器为空了，就代表使用启动类加\\载器作为父加载器去加载。}}
\lnode{q6313}{q631}{4778}{\mline{如果启动类加载器加载失败，会使用拓展类加载器来尝试加载，继续失败则会使\\用AppClassLoader来加载，继续失败则会抛出一个异常ClassNotFoundExceptio\\n，然后再调用当前加载器的findClass()方法进行加载。}}
\lnode{q632}{q63}{4831}{优势}
\lnode{q6321}{q632}{4813}{安全性，避免用户自己编写的类动态替换 Java的一些核心类库。}
\lnode{q6322}{q632}{4849}{避免了类的重复加载。}
\lnode{q633}{q63}{4913}{显示加载和隐式加载}
\lnode{q6331}{q633}{4885}{显示加载：指的是在代码中通过调用ClassLoader加载class对象。}
\lnode{q6332}{q633}{4941}{\mline{隐式加载：指不直接在代码中调用ClassLoader()方法加载Class对象，而是通过虚\\拟机自动加载到内存中。}}
\lzero{q7}{gL}{4977}{反射}
\lnode{q71}{q7}{4977}{}
\lzero{q8}{gL}{5095}{网络编程}
\lnode{q81}{q8}{5034}{\mline{网络编程是指编写运行在多个设备（计算机）的程序，这些设备都通过网络连接\\起来。}}
\lnode{q82}{q8}{5070}{TCP：TCP 是传输控制协议的缩写，它保障了两个应用程序之间的可靠通信。}
\lnode{q83}{q8}{5105}{UDP：UDP 是用户数据报协议的缩写，一个无连接的协议。}
\lnode{q84}{q8}{5159}{Socket 编程}
\lnode{q841}{q84}{5141}{ServerSocket}
\lnode{q842}{q84}{5177}{Socket}
\lzero{q9}{gL}{5286}{Java8}
\lnode{q91}{q9}{5214}{函数式接口:}
\lnode{q911}{q91}{5214}{只能包含一个抽象方法。}
\lnode{q92}{q9}{5286}{Lambda表达式}
\lnode{q921}{q92}{5249}{作用：替换匿名内部类的语法。}
\lnode{q922}{q92}{5286}{注意：只能能应用于 函数式接口。}
\lnode{q923}{q92}{5322}{Lambda中只有一行代码，代码中只调用了一个方法。}
\lnode{q93}{q9}{5357}{Stream操作容器}
% ---------- collapse markers ----------
\circlist
\dotc{1535,2537}\dotc{1535,5934}\dotc{1091,3416}
\end{tikzpicture}
\end{document}
